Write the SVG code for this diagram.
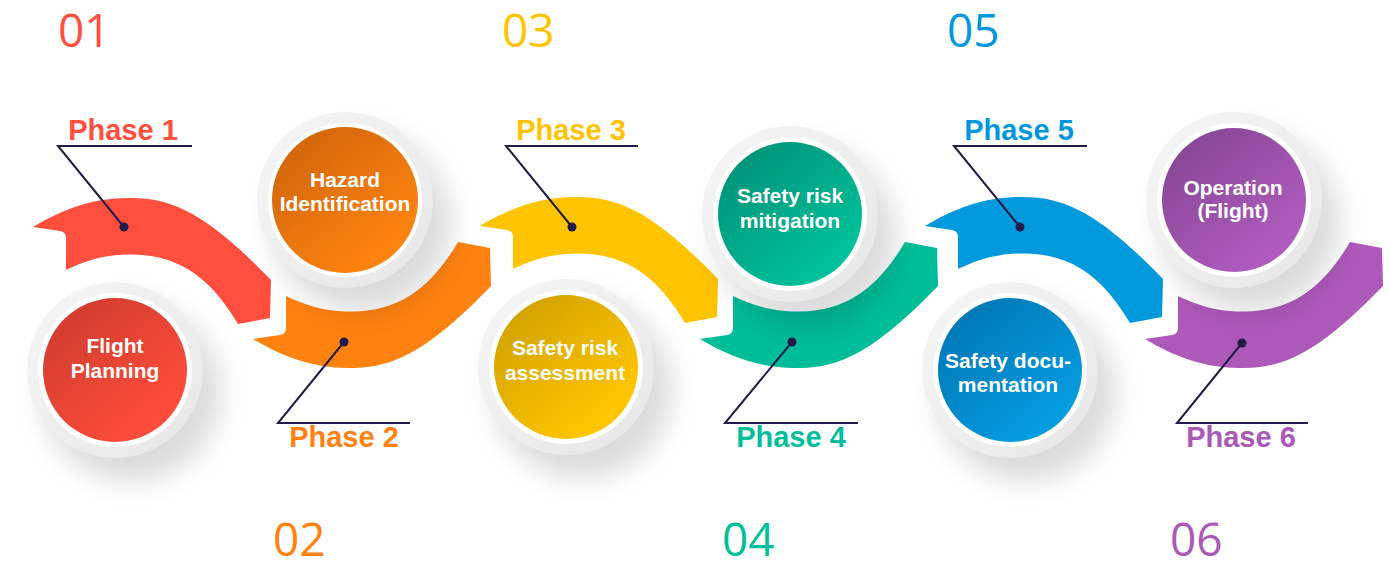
<svg xmlns="http://www.w3.org/2000/svg" width="1400" height="567" viewBox="0 0 1400 567">
<defs>
  <filter id="sh" x="-50%" y="-50%" width="200%" height="200%"><feGaussianBlur stdDeviation="14"/></filter>
  <linearGradient id="ring" x1="0" y1="0" x2="1" y2="1"><stop offset="0" stop-color="#f6f6f6"/><stop offset="1" stop-color="#e6e6e6"/></linearGradient>
  <linearGradient id="gRed" x1="0.15" y1="0.1" x2="0.8" y2="0.85"><stop offset="0" stop-color="#d13d2e"/><stop offset="1" stop-color="#ff4c3b"/></linearGradient>
  <linearGradient id="gOrange" x1="0.15" y1="0.1" x2="0.8" y2="0.85"><stop offset="0" stop-color="#d2660b"/><stop offset="1" stop-color="#ff840f"/></linearGradient>
  <linearGradient id="gYellow" x1="0.15" y1="0.1" x2="0.8" y2="0.85"><stop offset="0" stop-color="#d3a300"/><stop offset="1" stop-color="#ffc600"/></linearGradient>
  <linearGradient id="gGreen" x1="0.15" y1="0.1" x2="0.8" y2="0.85"><stop offset="0" stop-color="#009479"/><stop offset="1" stop-color="#00c19b"/></linearGradient>
  <linearGradient id="gBlue" x1="0.15" y1="0.1" x2="0.8" y2="0.85"><stop offset="0" stop-color="#0078b6"/><stop offset="1" stop-color="#059ce0"/></linearGradient>
  <linearGradient id="gPurple" x1="0.15" y1="0.1" x2="0.8" y2="0.85"><stop offset="0" stop-color="#874795"/><stop offset="1" stop-color="#b05cbf"/></linearGradient>
  <path id="rib" d="M0,0 C30,18 60,29 95,29 C140,30 175,12 238,-53 L237,-91 L205,-97 C180,-55 150,-28 100,-27.5 C70,-27 50,-35 33,-43 L33,-11 Q33,-5 27,-4 Z"/>
  <g id="disc">
    <circle cx="16" cy="22" r="90" fill="#000" opacity="0.14" filter="url(#sh)"/>
    <circle r="88" fill="url(#ring)"/>
    <circle r="77" fill="#ffffff"/>
  </g>
</defs>
<style>
  .num{font-family:"Open Sans","Liberation Sans",sans-serif;font-size:46px;font-weight:400}
  .ph{font-family:"Liberation Sans",Arial,sans-serif;font-size:29px;font-weight:700;text-anchor:middle}
  .ct{font-family:"Liberation Sans",Arial,sans-serif;font-size:21px;font-weight:700;fill:#fff;text-anchor:middle}
  .ld{fill:none;stroke:#241a4b;stroke-width:2}
  .dot{fill:#241a4b}
</style>
<rect width="1400" height="567" fill="#ffffff"/>

<!-- ribbons -->
<g id="ribbons">
  <use href="#rib" transform="translate(33,227) scale(1,-1)" fill="#fe4f3e"/>
  <use href="#rib" transform="translate(253,339)" fill="#fe8210"/>
  <use href="#rib" transform="translate(480,226) scale(1,-1)" fill="#fec400"/>
  <use href="#rib" transform="translate(700,339)" fill="#00bd99"/>
  <use href="#rib" transform="translate(925,226) scale(1,-1)" fill="#0099dc"/>
  <use href="#rib" transform="translate(1145,339)" fill="#ad59ba"/>
</g>

<!-- circle nodes -->
<g id="node-flight-planning">
  <use href="#disc" transform="translate(115,370)"/>
  <circle cx="115" cy="370" r="72" fill="url(#gRed)"/>
  <text class="ct" x="115" y="353">Flight</text>
  <text class="ct" x="115" y="378">Planning</text>
</g>
<g id="node-hazard">
  <use href="#disc" transform="translate(345,200)"/>
  <circle cx="345" cy="200" r="73" fill="url(#gOrange)"/>
  <text class="ct" x="345" y="187">Hazard</text>
  <text class="ct" x="345" y="211">Identification</text>
</g>
<g id="node-assessment">
  <use href="#disc" transform="translate(566,367)"/>
  <circle cx="566" cy="367" r="72" fill="url(#gYellow)"/>
  <text class="ct" x="565" y="355">Safety risk</text>
  <text class="ct" x="565" y="380">assessment</text>
</g>
<g id="node-mitigation">
  <use href="#disc" transform="translate(790,214)"/>
  <circle cx="790" cy="214" r="72" fill="url(#gGreen)"/>
  <text class="ct" x="790" y="203">Safety risk</text>
  <text class="ct" x="790" y="228">mitigation</text>
</g>
<g id="node-documentation">
  <use href="#disc" transform="translate(1010,370)"/>
  <circle cx="1010" cy="370" r="72" fill="url(#gBlue)"/>
  <text class="ct" x="1008" y="368">Safety docu-</text>
  <text class="ct" x="1008" y="392">mentation</text>
</g>
<g id="node-operation">
  <use href="#disc" transform="translate(1234,200)"/>
  <circle cx="1234" cy="200" r="72" fill="url(#gPurple)"/>
  <text class="ct" x="1233" y="195">Operation</text>
  <text class="ct" x="1233" y="218">(Flight)</text>
</g>

<!-- leaders -->
<g id="connectors">
  <polyline class="ld" points="192,146 58,146 124,227"/>
  <circle class="dot" cx="124" cy="227" r="4.5"/>
  <polyline class="ld" points="410,423 278,423 344,342"/>
  <circle class="dot" cx="344" cy="342" r="4.5"/>
  <polyline class="ld" points="638,146 506,146 572,227"/>
  <circle class="dot" cx="572" cy="227" r="4.5"/>
  <polyline class="ld" points="858,423 725,423 792,342"/>
  <circle class="dot" cx="792" cy="342" r="4.5"/>
  <polyline class="ld" points="1087,146 954,146 1020,227"/>
  <circle class="dot" cx="1020" cy="227" r="4.5"/>
  <polyline class="ld" points="1308,423 1177,423 1242,343"/>
  <circle class="dot" cx="1242" cy="343" r="4.5"/>
</g>

<!-- phase labels -->
<g id="labels">
  <text class="ph" x="123" y="140" fill="#ff4f3e">Phase 1</text>
  <text class="ph" x="344" y="447" fill="#ff8210">Phase 2</text>
  <text class="ph" x="571" y="140" fill="#ffc300">Phase 3</text>
  <text class="ph" x="791" y="447" fill="#00bf9a">Phase 4</text>
  <text class="ph" x="1019" y="140" fill="#0098dd">Phase 5</text>
  <text class="ph" x="1241" y="447" fill="#ab58b8">Phase 6</text>
</g>

<!-- numbers -->
<g id="numbers">
  <text class="num" x="58" y="47" fill="#ff4f3e">01</text>
  <text class="num" x="273" y="556" fill="#ff8210">02</text>
  <text class="num" x="502" y="47" fill="#ffc300">03</text>
  <text class="num" x="722" y="556" fill="#00bf9a">04</text>
  <text class="num" x="947" y="47" fill="#0098dd">05</text>
  <text class="num" x="1170" y="556" fill="#ab58b8">06</text>
</g>
</svg>
